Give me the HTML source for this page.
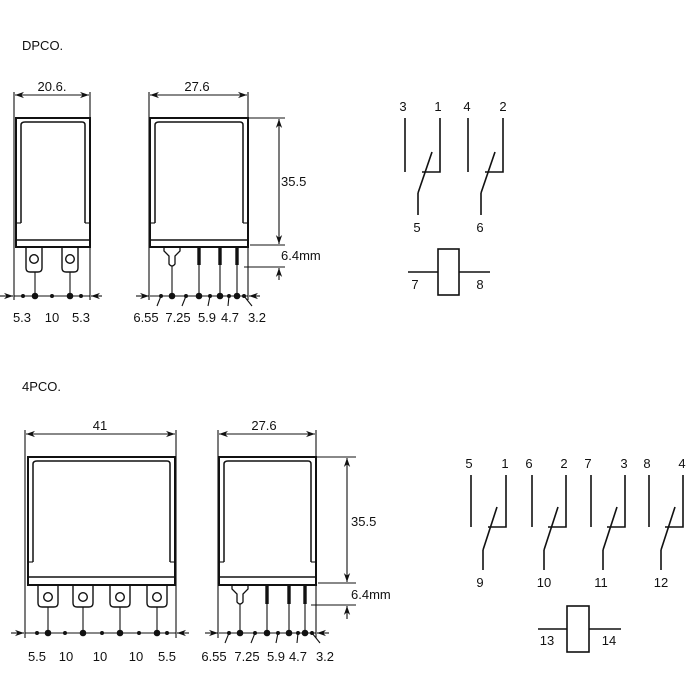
<!DOCTYPE html>
<html><head><meta charset="utf-8"><style>
html,body{margin:0;padding:0;background:#fff}
svg{display:block}
text{font-family:"Liberation Sans",Arial,sans-serif;font-size:13px;fill:#111}
</style></head><body>
<svg width="700" height="700" viewBox="0 0 700 700" xmlns="http://www.w3.org/2000/svg">
<defs>
<marker id="a" viewBox="0 0 10 10" refX="10" refY="5" markerWidth="9" markerHeight="9" orient="auto-start-reverse" markerUnits="userSpaceOnUse"><path d="M0,1.5 L10,5 L0,8.5 L3,5 Z" fill="#111" stroke="none"/></marker>
</defs>
<g stroke="#111" fill="none" stroke-width="1.1">
<!-- ================= DPCO front ================= -->
<line x1="14" y1="92" x2="14" y2="300"/><line x1="90" y1="92" x2="90" y2="300"/>
<line x1="15" y1="95" x2="89" y2="95" marker-start="url(#a)" marker-end="url(#a)"/>
<rect x="16" y="118" width="74" height="129" stroke-width="2"/>
<path d="M21,223 V125 Q21,122 25,122 H82 Q85,122 85,125 V223" stroke-width="1.5"/>
<line x1="16" y1="223" x2="21" y2="223"/><line x1="85" y1="223" x2="90" y2="223"/>
<line x1="16" y1="240" x2="90" y2="240" stroke-width="1.5"/>
<g stroke-width="1.4">
<path d="M26,247 V268 Q26,272 30,272 H38 Q42,272 42,268 V247"/>
<circle cx="34" cy="259" r="4.3"/>
<path d="M62,247 V268 Q62,272 66,272 H74 Q78,272 78,268 V247"/>
<circle cx="70" cy="259" r="4.3"/>
</g>
<line x1="35" y1="272" x2="35" y2="296"/><line x1="70" y1="272" x2="70" y2="296"/>
<line x1="0" y1="296" x2="13" y2="296" marker-end="url(#a)"/>
<line x1="14" y1="296" x2="90" y2="296"/>
<line x1="102" y1="296" x2="91" y2="296" marker-end="url(#a)"/>
<!-- ================= DPCO side ================= -->
<line x1="149" y1="92" x2="149" y2="300"/><line x1="248" y1="92" x2="248" y2="300"/>
<line x1="150" y1="95" x2="247" y2="95" marker-start="url(#a)" marker-end="url(#a)"/>
<rect x="150" y="118" width="98" height="129" stroke-width="2"/>
<path d="M155,223 V125 Q155,122 159,122 H240 Q243,122 243,125 V223" stroke-width="1.5"/>
<line x1="150" y1="223" x2="155" y2="223"/><line x1="243" y1="223" x2="248" y2="223"/>
<line x1="150" y1="240" x2="248" y2="240" stroke-width="1.5"/>
<path d="M164,247 V251 L169,256 V264 Q172,268 175,264 V256 L180,251 V247" stroke-width="1.3"/>
<line x1="172" y1="266" x2="172" y2="296"/>
<line x1="199" y1="247" x2="199" y2="296"/><line x1="220" y1="247" x2="220" y2="296"/><line x1="237" y1="247" x2="237" y2="296"/>
<g stroke-width="3.4"><line x1="199" y1="247" x2="199" y2="265"/><line x1="220" y1="247" x2="220" y2="265"/><line x1="237" y1="247" x2="237" y2="265"/></g>
<line x1="248" y1="118" x2="285" y2="118"/><line x1="250" y1="245" x2="285" y2="245"/>
<line x1="244" y1="267" x2="285" y2="267"/>
<line x1="279" y1="119" x2="279" y2="244" marker-start="url(#a)" marker-end="url(#a)"/>
<line x1="279" y1="280" x2="279" y2="268" marker-end="url(#a)"/>
<line x1="136" y1="296" x2="149" y2="296" marker-end="url(#a)"/>
<line x1="150" y1="296" x2="248" y2="296"/>
<line x1="260" y1="296" x2="249" y2="296" marker-end="url(#a)"/>
<line x1="161" y1="296" x2="157" y2="306"/><line x1="186" y1="296" x2="182" y2="306"/><line x1="210" y1="296" x2="208" y2="306"/><line x1="229" y1="296" x2="228" y2="306"/><line x1="244" y1="296" x2="252" y2="306"/>
<!-- ================= DPCO schematic ================= -->
<g stroke-width="1.6">
<line x1="405" y1="118" x2="405" y2="172"/>
<polyline points="440,118 440,172 422,172"/>
<line x1="418" y1="193" x2="432" y2="152"/>
<line x1="418" y1="193" x2="418" y2="215"/>
<line x1="468" y1="118" x2="468" y2="172"/>
<polyline points="503,118 503,172 485,172"/>
<line x1="481" y1="193" x2="495" y2="152"/>
<line x1="481" y1="193" x2="481" y2="215"/>
<rect x="438" y="249" width="21" height="46"/>
<line x1="408" y1="272" x2="438" y2="272"/><line x1="459" y1="272" x2="490" y2="272"/>
</g>
<!-- ================= 4PCO front ================= -->
<line x1="25" y1="430" x2="25" y2="638"/><line x1="176" y1="430" x2="176" y2="638"/>
<line x1="26" y1="434" x2="175" y2="434" marker-start="url(#a)" marker-end="url(#a)"/>
<rect x="28" y="457" width="147" height="128" stroke-width="2"/>
<path d="M33,562 V464 Q33,461 37,461 H167 Q170,461 170,464 V562" stroke-width="1.5"/>
<line x1="28" y1="562" x2="33" y2="562"/><line x1="170" y1="562" x2="175" y2="562"/>
<line x1="28" y1="577" x2="175" y2="577" stroke-width="1.5"/>
<g stroke-width="1.4">
<path d="M38,585 V603 Q38,607 42,607 H54 Q58,607 58,603 V585"/><circle cx="48" cy="597" r="4.3"/>
<path d="M73,585 V603 Q73,607 77,607 H89 Q93,607 93,603 V585"/><circle cx="83" cy="597" r="4.3"/>
<path d="M110,585 V603 Q110,607 114,607 H126 Q130,607 130,603 V585"/><circle cx="120" cy="597" r="4.3"/>
<path d="M147,585 V603 Q147,607 151,607 H163 Q167,607 167,603 V585"/><circle cx="157" cy="597" r="4.3"/>
</g>
<line x1="48" y1="607" x2="48" y2="633"/><line x1="83" y1="607" x2="83" y2="633"/><line x1="120" y1="607" x2="120" y2="633"/><line x1="157" y1="607" x2="157" y2="633"/>
<line x1="11" y1="633" x2="24" y2="633" marker-end="url(#a)"/>
<line x1="25" y1="633" x2="176" y2="633"/>
<line x1="189" y1="633" x2="177" y2="633" marker-end="url(#a)"/>
<!-- ================= 4PCO side ================= -->
<line x1="218" y1="430" x2="218" y2="638"/><line x1="316" y1="430" x2="316" y2="638"/>
<line x1="219" y1="434" x2="315" y2="434" marker-start="url(#a)" marker-end="url(#a)"/>
<rect x="219" y="457" width="97" height="128" stroke-width="2"/>
<path d="M224,562 V464 Q224,461 228,461 H308 Q311,461 311,464 V562" stroke-width="1.5"/>
<line x1="219" y1="562" x2="224" y2="562"/><line x1="311" y1="562" x2="316" y2="562"/>
<line x1="219" y1="577" x2="316" y2="577" stroke-width="1.5"/>
<path d="M232,585 V589 L237,594 V602 Q240,606 243,602 V594 L248,589 V585" stroke-width="1.3"/>
<line x1="240" y1="604" x2="240" y2="633"/>
<line x1="267" y1="585" x2="267" y2="633"/><line x1="289" y1="585" x2="289" y2="633"/><line x1="305" y1="585" x2="305" y2="633"/>
<g stroke-width="3.4"><line x1="267" y1="585" x2="267" y2="604"/><line x1="289" y1="585" x2="289" y2="604"/><line x1="305" y1="585" x2="305" y2="604"/></g>
<line x1="316" y1="457" x2="356" y2="457"/><line x1="318" y1="583" x2="356" y2="583"/>
<line x1="311" y1="605" x2="356" y2="605"/>
<line x1="347" y1="458" x2="347" y2="582" marker-start="url(#a)" marker-end="url(#a)"/>
<line x1="347" y1="619" x2="347" y2="606" marker-end="url(#a)"/>
<line x1="205" y1="633" x2="218" y2="633" marker-end="url(#a)"/>
<line x1="219" y1="633" x2="316" y2="633"/>
<line x1="329" y1="633" x2="317" y2="633" marker-end="url(#a)"/>
<line x1="229" y1="633" x2="225" y2="643"/><line x1="255" y1="633" x2="251" y2="643"/><line x1="278" y1="633" x2="276" y2="643"/><line x1="298" y1="633" x2="297" y2="643"/><line x1="312" y1="633" x2="320" y2="643"/>
<!-- ================= 4PCO schematic ================= -->
<g stroke-width="1.6">
<line x1="471" y1="475" x2="471" y2="527"/><polyline points="506,475 506,527 488,527"/><line x1="483" y1="550" x2="497" y2="507"/><line x1="483" y1="550" x2="483" y2="570"/>
<line x1="532" y1="475" x2="532" y2="527"/><polyline points="566,475 566,527 548,527"/><line x1="544" y1="550" x2="558" y2="507"/><line x1="544" y1="550" x2="544" y2="570"/>
<line x1="591" y1="475" x2="591" y2="527"/><polyline points="625,475 625,527 607,527"/><line x1="603" y1="550" x2="617" y2="507"/><line x1="603" y1="550" x2="603" y2="570"/>
<line x1="649" y1="475" x2="649" y2="527"/><polyline points="683,475 683,527 665,527"/><line x1="661" y1="550" x2="675" y2="507"/><line x1="661" y1="550" x2="661" y2="570"/>
<rect x="567" y="606" width="22" height="46"/>
<line x1="538" y1="629" x2="567" y2="629"/><line x1="589" y1="629" x2="621" y2="629"/>
</g>
</g>
<!-- dots -->
<g fill="#111">
<circle cx="23" cy="296" r="2"/><circle cx="35" cy="296" r="3.3"/><circle cx="52" cy="296" r="2"/><circle cx="70" cy="296" r="3.3"/><circle cx="81" cy="296" r="2"/>
<circle cx="161" cy="296" r="2"/><circle cx="172" cy="296" r="3.3"/><circle cx="186" cy="296" r="2"/><circle cx="199" cy="296" r="3.3"/><circle cx="210" cy="296" r="2"/><circle cx="220" cy="296" r="3.3"/><circle cx="229" cy="296" r="2"/><circle cx="237" cy="296" r="3.3"/><circle cx="244" cy="296" r="2"/>
<circle cx="37" cy="633" r="2"/><circle cx="48" cy="633" r="3.3"/><circle cx="65" cy="633" r="2"/><circle cx="83" cy="633" r="3.3"/><circle cx="102" cy="633" r="2"/><circle cx="120" cy="633" r="3.3"/><circle cx="139" cy="633" r="2"/><circle cx="157" cy="633" r="3.3"/><circle cx="167" cy="633" r="2"/>
<circle cx="229" cy="633" r="2"/><circle cx="240" cy="633" r="3.3"/><circle cx="255" cy="633" r="2"/><circle cx="267" cy="633" r="3.3"/><circle cx="278" cy="633" r="2"/><circle cx="289" cy="633" r="3.3"/><circle cx="298" cy="633" r="2"/><circle cx="305" cy="633" r="3.3"/><circle cx="312" cy="633" r="2"/>
</g>
<!-- text -->
<text x="22" y="50">DPCO.</text>
<text x="22" y="391">4PCO.</text>
<g text-anchor="middle">
<text x="52" y="91">20.6.</text>
<text x="197" y="91">27.6</text>
<text x="22" y="322">5.3</text><text x="52" y="322">10</text><text x="81" y="322">5.3</text>
<text x="146" y="322">6.55</text><text x="178" y="322">7.25</text><text x="207" y="322">5.9</text><text x="230" y="322">4.7</text><text x="257" y="322">3.2</text>
<text x="403" y="111">3</text><text x="438" y="111">1</text><text x="467" y="111">4</text><text x="503" y="111">2</text>
<text x="417" y="232">5</text><text x="480" y="232">6</text>
<text x="415" y="289">7</text><text x="480" y="289">8</text>
<text x="100" y="430">41</text>
<text x="264" y="430">27.6</text>
<text x="37" y="661">5.5</text><text x="66" y="661">10</text><text x="100" y="661">10</text><text x="136" y="661">10</text><text x="167" y="661">5.5</text>
<text x="214" y="661">6.55</text><text x="247" y="661">7.25</text><text x="276" y="661">5.9</text><text x="298" y="661">4.7</text><text x="325" y="661">3.2</text>
<text x="469" y="468">5</text><text x="505" y="468">1</text><text x="529" y="468">6</text><text x="564" y="468">2</text><text x="588" y="468">7</text><text x="624" y="468">3</text><text x="647" y="468">8</text><text x="682" y="468">4</text>
<text x="480" y="587">9</text><text x="544" y="587">10</text><text x="601" y="587">11</text><text x="661" y="587">12</text>
<text x="547" y="645">13</text><text x="609" y="645">14</text>
</g>
<text x="281" y="186">35.5</text>
<text x="281" y="260">6.4mm</text>
<text x="351" y="526">35.5</text>
<text x="351" y="599">6.4mm</text>
</svg>
</body></html>
